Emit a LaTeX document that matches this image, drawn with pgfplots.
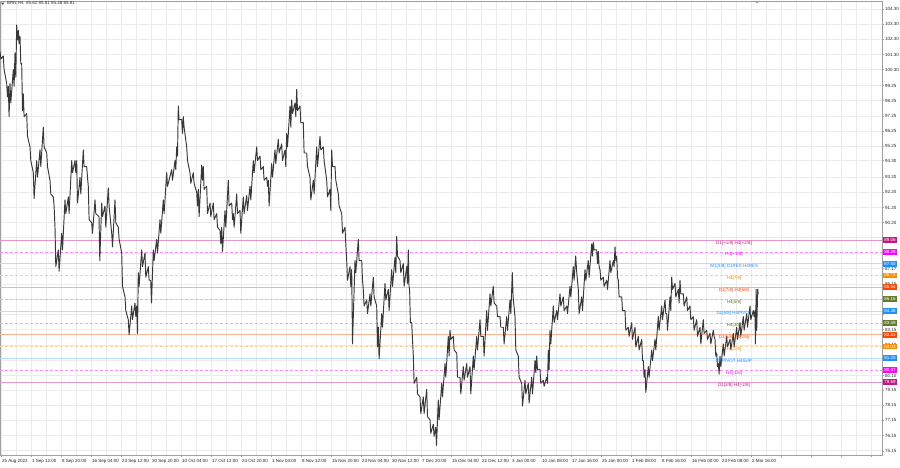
\documentclass[border=0pt]{standalone}
\usepackage{pgfplots}
\pgfplotsset{compat=1.18}
\usepackage{fontspec}
\setmainfont{Liberation Sans}

\definecolor{mvr}{HTML}{C71585}
\definecolor{mag}{HTML}{FF00FF}
\definecolor{dblue}{HTML}{1E90FF}
\definecolor{dorange}{HTML}{FF8C00}
\definecolor{ored}{HTML}{FF4500}
\definecolor{oliv}{HTML}{667A2E}
\definecolor{bars}{HTML}{383838}
\definecolor{frame}{HTML}{A0A0A0}

\newcommand{\mtfont}{\fontsize{4.5}{5.4}\selectfont}

\begin{document}
\mtfont
\begin{tikzpicture}[x=1pt,y=1pt]
\useasboundingbox (0,0) rectangle (900,468);
\fill[white] (0,0) rectangle (900,468);
\begin{axis}[
    at={(0pt,13pt)}, anchor=south west,
    scale only axis, width=882pt, height=454pt,
    xmin=0, xmax=882, ymin=74.87, ymax=104.83,
    axis line style={frame, line width=0.7pt},
    xtick pos=bottom, ytick pos=right,
    tick align=outside, major tick length=2pt, minor tick length=0pt,
    tick style={frame, line width=0.5pt},
    xmajorgrids, xminorgrids, ymajorgrids,
    grid style={black!8, line width=0.7pt},
    minor grid style={black!8, line width=0.7pt},
    xtick={1.7,31.7,61.7,91.7,121.7,151.7,181.7,211.7,241.7,271.7,301.7,331.7,361.7,391.7,421.7,451.7,481.7,511.7,541.7,571.7,601.7,631.7,661.7,691.7,721.7,751.7,781.7,811.7,841.7,871.7},
    minor xtick={16.7,46.7,76.7,106.7,136.7,166.7,196.7,226.7,256.7,286.7,316.7,346.7,376.7,406.7,436.7,466.7,496.7,526.7,556.7,586.7,616.7,646.7,676.7,706.7,736.7,766.7,796.7,826.7,856.7},
    xticklabels={25 Aug 2022, 1 Sep 12:00, 8 Sep 20:00, 16 Sep 04:00, 23 Sep 12:00, 30 Sep 20:00, 10 Oct 04:00, 17 Oct 12:00, 24 Oct 20:00, 1 Nov 04:00, 8 Nov 12:00, 15 Nov 20:00, 23 Nov 04:00, 30 Nov 12:00, 7 Dec 20:00, 15 Dec 04:00, 22 Dec 12:00, 3 Jan 00:00, 10 Jan 08:00, 17 Jan 16:00, 25 Jan 00:00, 1 Feb 08:00, 8 Feb 16:00, 16 Feb 00:00, 23 Feb 08:00, 2 Mar 16:00,{},{},{},{}},
    ytick={75.15,76.15,77.15,78.15,79.15,80.10,81.10,82.10,83.15,84.15,85.15,86.15,87.17,88.20,89.20,90.20,91.20,92.20,93.20,94.30,95.25,96.25,97.25,98.25,99.25,100.30,101.30,102.30,103.30,104.30},
    yticklabels={75.15,76.15,77.15,78.15,79.15,80.10,{},82.10,83.15,{},{},86.15,87.17,{},{},90.20,91.20,92.20,93.20,94.30,95.25,96.25,97.25,98.25,99.25,100.30,101.30,102.30,103.30,104.30},
    xticklabel style={anchor=north west, inner sep=0.5pt, xshift=-0.3pt, yshift=-1.8pt, font=\mtfont, text=black!85},
    yticklabel style={anchor=west, inner sep=0.5pt, xshift=0.5pt, font=\mtfont, text=black!85},
]
% price levels
\addplot[mvr!45, line width=0.55pt] coordinates {(0,89.06) (882,89.06)};
\addplot[mag!45, line width=0.55pt, dash pattern=on 3pt off 2pt] coordinates {(0,88.28) (882,88.28)};
\addplot[dblue!32, line width=0.55pt] coordinates {(0,87.50) (882,87.50)};
\addplot[dorange!42, line width=0.55pt, dash pattern=on 3pt off 2pt] coordinates {(0,86.72) (882,86.72)};
\addplot[ored!42, line width=0.55pt] coordinates {(0,85.94) (882,85.94)};
\addplot[oliv!38, line width=0.55pt, dash pattern=on 3pt off 2pt] coordinates {(0,85.16) (882,85.16)};
\addplot[dblue!32, line width=0.55pt] coordinates {(0,84.38) (882,84.38)};
\addplot[oliv!38, line width=0.55pt, dash pattern=on 3pt off 2pt] coordinates {(0,83.59) (882,83.59)};
\addplot[ored!42, line width=0.55pt] coordinates {(0,82.81) (882,82.81)};
\addplot[dorange!42, line width=0.55pt, dash pattern=on 3pt off 2pt] coordinates {(0,82.03) (882,82.03)};
\addplot[dblue!32, line width=0.55pt] coordinates {(0,81.25) (882,81.25)};
\addplot[mag!45, line width=0.55pt, dash pattern=on 3pt off 2pt] coordinates {(0,80.47) (882,80.47)};
\addplot[mvr!45, line width=0.55pt] coordinates {(0,79.69) (882,79.69)};

% BRN H4 bars, high then low
\addplot[bars, line width=0.95pt, line join=round] coordinates {
(0,101.5) (0.8,101.0) (3.3,101.2) (4.1,100.3) (6.7,99.4) (7.5,98.5) (8.3,99.2) (9.1,97.2)
(10,99.4) (10.8,98.1) (13.3,100.3) (14.1,99.2) (15,101.4) (15.8,99.8) (16.7,103.25) (17.5,102.26)
(18.3,102.9) (19.1,102.0) (20,102.5) (20.8,100.7) (21.7,100.7) (22.5,97.6) (23.3,98.7) (24.1,97.2)
(26.7,97.4) (27.5,95.9) (30,95.2) (30.8,94.3) (33.3,93.5) (34.1,91.8) (36.7,94.3) (37.5,93.2)
(40,95.0) (40.8,93.9) (43.3,96.5) (44.1,95.2) (46.7,94.8) (47.5,93.9) (50,93.0) (50.8,92.1)
(53.3,91.9) (54.1,91.3) (55,89.9) (55.8,87.3) (58.3,88.4) (59.1,87.0) (61.7,89.5) (62.5,88.4)
(65,91.7) (65.8,90.8) (68.3,91.9) (69.1,90.8) (71.7,94.3) (72.5,93.5) (75,94.3) (75.8,93.5)
(76.7,94.3) (77.5,91.5) (80,93.2) (80.8,92.1) (83.3,95.0) (84.1,93.9) (86.7,93.9) (87.5,93.2)
(88.3,92.6) (89.1,90.4) (91.7,90.2) (92.5,89.5) (95,91.7) (95.8,90.8) (99,90.6) (99.8,87.7)
(101.7,91.5) (102.5,90.6) (105,91.3) (105.8,89.9) (108.3,92.5) (109.1,91.3) (111.7,89.5) (112.5,88.6)
(115,91.7) (115.8,90.2) (118.3,89.9) (119.1,89.1) (121.7,88.2) (122.5,86.0) (125,85.3) (125.8,84.4)
(128.3,83.8) (129.1,82.8) (131.7,84.7) (132.5,83.8) (135,84.9) (135.8,84.0) (136.7,84.7) (137.5,82.9)
(138.3,86.9) (139.1,86.0) (141.7,88.4) (142.5,87.3) (145,88.2) (145.8,86.6) (148.3,87.3) (149.1,86.4)
(150.7,86.4) (151.5,84.9) (153.3,88.4) (154.1,87.7) (156.7,89.1) (157.5,88.2) (160,90.4) (160.8,89.5)
(163.3,91.7) (164.1,90.8) (166.7,93.5) (167.5,92.6) (171.7,93.7) (172.5,93.0) (175,94.3) (175.8,93.7)
(176.7,95.2) (177.5,94.6) (178.3,97.9) (179.1,97.0) (181.7,97.0) (182.5,96.1) (183.3,97.2) (184.1,96.5)
(186.7,95.2) (187.5,94.3) (190,93.5) (190.8,92.8) (193.3,93.5) (194.1,92.8) (196.7,92.2) (197.5,91.3)
(198.3,92.4) (199.1,90.6) (201.7,94.0) (202.5,93.0) (203.3,93.9) (204.1,92.4) (206.7,92.6) (207.5,90.8)
(210,91.5) (210.8,90.6) (213.3,91.5) (214.1,90.4) (216.7,90.8) (217.5,89.9) (220,89.7) (220.8,88.8)
(221.7,89.9) (222.5,88.3) (225,91.0) (225.8,89.9) (228.3,93.0) (229.1,91.3) (231.7,91.5) (232.5,90.4)
(233.3,90.8) (234.1,89.9) (236.7,92.1) (237.5,90.8) (240,91.0) (240.8,89.5) (243.3,91.9) (244.1,90.8)
(246.7,92.0) (247.5,91.0) (250,92.6) (250.8,91.7) (253.3,94.3) (254.1,93.5) (256.7,95.2) (257.5,94.3)
(260,94.6) (260.8,93.7) (263.3,93.9) (264.1,93.0) (266.7,93.2) (267.5,92.6) (268.3,93.0) (269.1,91.3)
(271.7,94.1) (272.5,93.2) (275,95.0) (275.8,94.1) (278.3,95.7) (279.1,94.8) (281.7,95.4) (282.5,94.3)
(285,95.0) (285.8,93.9) (286.7,96.1) (287.5,95.2) (290,97.9) (290.8,96.5) (291.7,98.3) (292.5,97.4)
(295,98.1) (295.8,97.2) (296.7,99.0) (297.5,97.6) (300,97.9) (300.8,96.8) (303.3,96.8) (304.1,94.8)
(306.7,94.8) (307.5,93.9) (310,93.2) (310.8,91.7) (313.3,93.0) (314.1,92.1) (316.7,95.2) (317.5,93.9)
(320,95.9) (320.8,95.0) (323.3,95.2) (324.1,94.3) (326.7,93.0) (327.5,91.9) (330,92.4) (330.8,91.0)
(331.7,95.0) (332.5,93.9) (335,93.9) (335.8,93.0) (338.3,92.1) (339.1,91.3) (341.7,90.8) (342.5,89.5)
(345,89.9) (345.8,88.8) (346.7,87.7) (347.5,86.4) (350,87.3) (350.8,86.0) (351.7,87.1) (352.5,82.2)
(355,87.7) (355.8,86.9) (358.3,89.1) (359.1,87.7) (361.7,87.7) (362.5,86.4) (363.3,85.8) (364.1,84.7)
(366.7,85.1) (367.5,84.2) (370,85.5) (370.8,84.7) (373.3,86.6) (374.1,85.3) (376.7,84.7) (377.5,82.0)
(378.3,83.3) (379.1,81.2) (381.7,84.2) (382.5,83.3) (385,86.2) (385.8,85.1) (388.3,85.8) (389.1,84.4)
(391.7,87.1) (392.5,86.0) (395,87.9) (395.8,86.9) (396.7,89.3) (397.5,88.0) (400,87.7) (400.8,86.9)
(403.3,87.5) (404.1,86.0) (406.7,87.3) (407.5,86.2) (408.3,88.4) (409,86.0) (409.6,85.8) (410.4,83.6)
(411.7,83.6) (412.5,82.5) (413.3,81.4) (414.1,79.6) (416.7,80.0) (417.5,78.9) (420,78.7) (420.8,77.6)
(423.3,78.7) (424.1,77.6) (426.7,79.2) (427.5,77.4) (430,77.2) (430.8,76.3) (433.3,76.9) (434.1,76.1)
(435.7,76.7) (436.5,75.5) (438.3,78.5) (439.1,77.2) (441.7,79.6) (442.5,78.7) (445,80.9) (445.8,80.0)
(448.3,82.7) (449.1,81.4) (450,83.1) (450.8,82.5) (453.3,82.7) (454.1,81.8) (456.7,81.6) (457.5,80.0)
(460,80.0) (460.8,78.9) (463.3,80.7) (464.1,79.8) (466.7,80.9) (467.5,80.0) (470,80.7) (470.8,78.9)
(473.3,81.4) (474.1,80.5) (476.7,82.7) (477.5,81.8) (480,83.8) (480.8,82.7) (483.3,82.7) (484.1,81.4)
(486.7,84.4) (487.5,83.1) (490,85.5) (490.8,84.7) (493.3,86.0) (494.1,84.9) (496.7,84.7) (497.5,84.0)
(500,84.0) (500.8,83.3) (503.3,83.3) (504.1,82.2) (506.7,84.0) (507.5,83.1) (510,85.1) (510.8,84.2)
(512.3,86.9) (513.1,85.3) (515,84.0) (515.8,81.8) (518.3,81.4) (519.1,80.0) (521.7,79.6) (522.5,78.1)
(525,79.8) (525.8,78.9) (528.3,79.6) (529.1,78.3) (531.7,80.0) (532.5,78.9) (535,81.1) (535.8,80.3)
(536.7,81.4) (537.5,80.5) (540,80.5) (540.8,79.6) (543.3,79.8) (544.1,79.4) (546.7,80.0) (547.5,79.6)
(548.3,81.8) (549.1,80.5) (550,83.1) (550.8,82.2) (553.3,84.7) (554.1,83.6) (556.7,84.4) (557.5,83.8)
(560,85.5) (560.8,84.7) (563.3,85.3) (564.1,84.4) (566.7,84.7) (567.5,84.2) (570,86.0) (570.8,85.3)
(573.3,87.3) (574.1,86.4) (575.7,88.0) (576.5,87.1) (578.3,85.8) (579.1,84.2) (581.7,85.3) (582.5,84.4)
(585,87.1) (585.8,86.4) (588.3,87.7) (589.1,86.6) (591.7,88.8) (592.5,88.0) (593.3,88.9) (594.1,88.4)
(596.7,88.4) (597.5,87.5) (598.3,88.3) (599.1,87.3) (600,87.1) (600.8,86.4) (603.3,86.6) (604.1,86.0)
(606.7,86.4) (607.5,85.8) (610,87.7) (610.8,86.9) (613.3,87.7) (614.1,87.3) (615,88.6) (615.8,87.7)
(616.7,88.0) (617.5,86.6) (618.3,86.4) (619.1,85.3) (621.7,85.3) (622.5,84.4) (625,84.4) (625.8,83.1)
(628.3,83.3) (629.1,82.7) (631.7,83.6) (632.5,82.5) (635,83.3) (635.8,82.0) (638.3,82.7) (639.1,81.8)
(641.7,82.5) (642.5,81.1) (643.3,81.1) (644.1,80.0) (645,80.5) (645.8,79.0) (648.3,80.7) (649.1,80.0)
(651.7,81.8) (652.5,81.1) (655,82.5) (655.8,81.8) (658.3,84.0) (659.1,83.1) (661.7,84.7) (662.5,83.8)
(665,85.1) (665.8,84.2) (666.7,84.2) (667.5,83.1) (670,85.3) (670.8,84.4) (671.7,86.6) (672.5,85.8)
(675,86.2) (675.8,85.3) (678.3,85.8) (679.1,84.9) (680,86.4) (680.8,85.5) (683.3,85.5) (684.1,84.7)
(686.7,85.3) (687.5,84.4) (690,84.7) (690.8,83.8) (693.3,84.0) (694.1,83.1) (696.7,83.8) (697.5,82.7)
(700,83.3) (700.8,82.2) (703.3,83.8) (704.1,82.9) (706.7,83.1) (707.5,82.5) (710,82.9) (710.8,82.2)
(713.3,83.1) (714.1,82.7) (715,82.5) (715.8,81.4) (716.7,81.6) (717.5,80.7) (718.3,80.9) (719.1,80.2)
(720,81.4) (720.8,80.7) (723.3,82.2) (724.1,81.4) (726.7,82.7) (727.5,82.0) (730,82.5) (730.8,81.8)
(733.3,82.9) (734.1,82.0) (736.7,83.3) (737.5,82.5) (740,83.6) (740.8,82.7) (743.3,84.0) (744.1,83.1)
(746.7,84.2) (747.5,83.3) (750,84.7) (750.8,83.8) (753.3,84.4) (754.1,84.0) (755,84.4) (755.4,82.2)
(756.2,85.8) (756.7,83.1) (757.7,85.81) (758.2,85.48)
};

% level captions
\begin{scope}[every node/.style={anchor=north, inner sep=0pt, yshift=-0.6pt, font=\mtfont}]
\node[text=mvr] at (axis cs:734,89.06) {D1[+1/8] H4[+2/8]};
\node[text=mag] at (axis cs:734,88.28) {H4[+1/8]};
\node[text=dblue] at (axis cs:734,87.50) {W1[3/8] D1RES H4RES};
\node[text=dorange] at (axis cs:734,86.72) {H4[7/8]};
\node[text=ored] at (axis cs:734,85.94) {D1[7/8] H4[6/8]};
\node[text=oliv] at (axis cs:734,85.16) {H4[5/8]};
\node[text=dblue] at (axis cs:734,84.38) {D1[6/8] H4PIVOT};
\node[text=oliv] at (axis cs:734,83.59) {H4[3/8]};
\node[text=ored] at (axis cs:734,82.81) {D1[5/8] H4[2/8]};
\node[text=dorange] at (axis cs:734,82.03) {H4[1/8]};
\node[text=dblue] at (axis cs:734,81.25) {D1PIVOT H4SUP};
\node[text=mag] at (axis cs:734,80.47) {H4[-1/8]};
\node[text=mvr] at (axis cs:734,79.69) {D1[3/8] H4[-2/8]};
\end{scope}

\coordinate (b1) at (axis cs:882,89.06);
\coordinate (b2) at (axis cs:882,88.28);
\coordinate (b3) at (axis cs:882,87.50);
\coordinate (b4) at (axis cs:882,86.72);
\coordinate (b5) at (axis cs:882,85.94);
\coordinate (b6) at (axis cs:882,85.16);
\coordinate (b7) at (axis cs:882,84.38);
\coordinate (b8) at (axis cs:882,83.59);
\coordinate (b9) at (axis cs:882,82.81);
\coordinate (b10) at (axis cs:882,82.03);
\coordinate (b11) at (axis cs:882,81.25);
\coordinate (b12) at (axis cs:882,80.47);
\coordinate (b13) at (axis cs:882,79.69);
\end{axis}

% price boxes on the scale
\begin{scope}[every node/.style={anchor=west, text=white, inner sep=0pt, minimum width=14.5pt, minimum height=5.8pt, font=\mtfont, xshift=0.6pt}]
\node[fill=mvr] at (b1) {89.06};
\node[fill=mag] at (b2) {88.28};
\node[fill=dblue] at (b3) {87.50};
\node[fill=dorange] at (b4) {86.72};
\node[fill=ored] at (b5) {85.94};
\node[fill=oliv] at (b6) {85.16};
\node[fill=dblue] at (b7) {84.38};
\node[fill=oliv] at (b8) {83.59};
\node[fill=ored] at (b9) {82.81};
\node[fill=dorange] at (b10) {82.03};
\node[fill=dblue] at (b11) {81.25};
\node[fill=mag] at (b12) {80.47};
\node[fill=mvr] at (b13) {79.69};
\end{scope}

% header
\fill[black!75] (1.2,465.4) -- (4.4,465.4) -- (2.8,463.2) -- cycle;
\node[anchor=west, inner sep=0pt, text=black!80] at (7,464.3) {BRN,H4\ \ 85.62 85.81 85.48 85.81};
\fill[frame] (754.5,467) -- (759.5,467) -- (757,464.5) -- cycle;
\end{tikzpicture}
\end{document}
